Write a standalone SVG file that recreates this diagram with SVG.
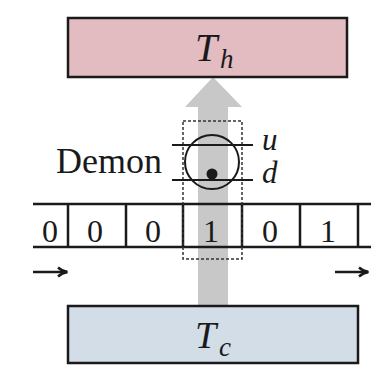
<svg xmlns="http://www.w3.org/2000/svg" width="371" height="374" viewBox="0 0 371 374">
<defs>
<style>
.box{stroke:#1a1a1a;stroke-width:2.5}
.ln{stroke:#1a1a1a;stroke-width:2.5;fill:none}
.thin{stroke:#1a1a1a;stroke-width:2;fill:none}
.serif{font-family:"Liberation Serif","DejaVu Serif",serif;fill:#1a1a1a}
.it{font-style:italic}
.digit{font-size:32px;text-anchor:middle}
</style>
<marker id="ah" viewBox="0 0 12 12" refX="11" refY="6" markerWidth="12" markerHeight="12" markerUnits="userSpaceOnUse" orient="auto">
<path d="M2,1.5 Q6,5.2 11.5,6 Q6,6.8 2,10.5" fill="none" stroke="#1a1a1a" stroke-width="2.4"/>
</marker>
</defs>
<rect width="371" height="374" fill="#ffffff"/>
<g id="connectors">
<path id="heat-flow" d="M213,77 L242,107 L228,107 L228,306 L198,306 L198,107 L185,107 Z" fill="#c8c8c8"/>
<line x1="33" y1="272" x2="67" y2="272" class="ln" marker-end="url(#ah)"/>
<line x1="335" y1="272" x2="368" y2="272" class="ln" marker-end="url(#ah)"/>
</g>
<g id="hot-reservoir">
<rect x="68" y="18" width="279" height="59" fill="#e3bcc1" class="box"/>
<text x="195" y="61" class="serif it" font-size="40">T</text>
<text x="220" y="68" class="serif it" font-size="27">h</text>
</g>
<g id="cold-reservoir">
<rect x="68" y="306" width="290" height="57" fill="#d3dde8" class="box"/>
<text x="195" y="348" class="serif it" font-size="38">T</text>
<text x="219" y="356" class="serif it" font-size="27">c</text>
</g>
<g id="tape">
<line x1="33" y1="204" x2="371" y2="204" class="ln"/>
<line x1="33" y1="247" x2="371" y2="247" class="ln"/>
<line x1="68" y1="204" x2="68" y2="247" class="ln"/>
<line x1="126" y1="204" x2="126" y2="247" class="ln"/>
<line x1="183" y1="204" x2="183" y2="247" class="ln"/>
<line x1="242" y1="204" x2="242" y2="247" class="ln"/>
<line x1="300" y1="204" x2="300" y2="247" class="ln"/>
<line x1="358" y1="204" x2="358" y2="247" class="ln"/>
<text x="50" y="242" class="serif digit">0</text>
<text x="95" y="242" class="serif digit">0</text>
<text x="153" y="242" class="serif digit">0</text>
<text x="211" y="242" class="serif digit">1</text>
<text x="270" y="242" class="serif digit">0</text>
<text x="328" y="242" class="serif digit">1</text>
</g>
<g id="demon">
<rect x="183" y="121" width="59" height="138" fill="none" stroke="#333" stroke-width="1.5" stroke-dasharray="3,2"/>
<circle cx="212" cy="162" r="27" class="thin"/>
<line x1="172" y1="145" x2="253" y2="145" class="thin"/>
<line x1="172" y1="180" x2="253" y2="180" class="thin"/>
<circle cx="212" cy="174" r="5.5" fill="#1a1a1a"/>
<text x="56" y="173" class="serif" font-size="36">Demon</text>
<text x="262" y="150" class="serif it" font-size="31">u</text>
<text x="262" y="183" class="serif it" font-size="31">d</text>
</g>
</svg>
